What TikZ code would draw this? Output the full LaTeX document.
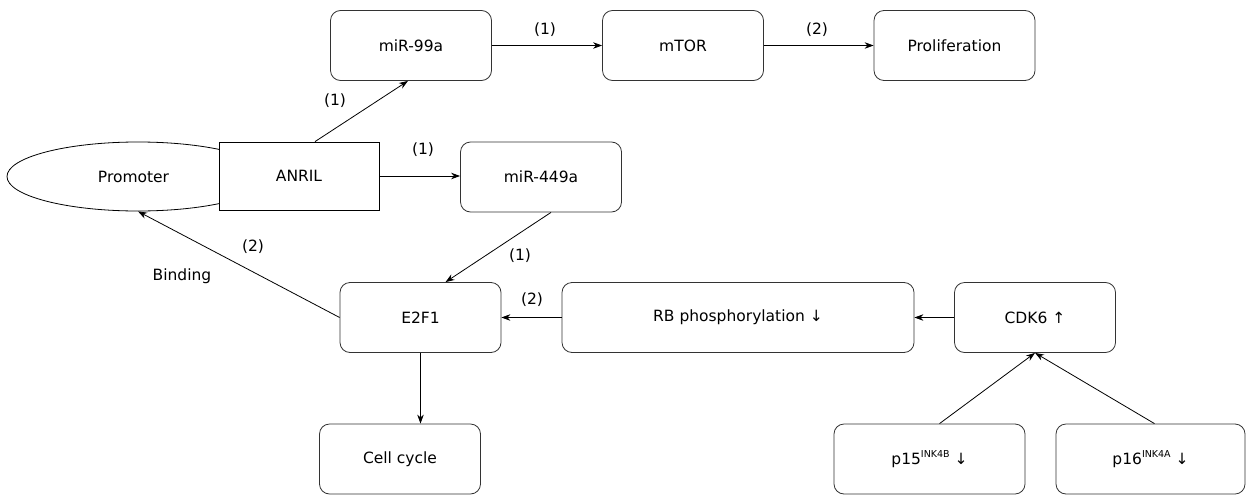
\documentclass[tikz,border=0pt]{standalone}
\usepackage{fontspec}
\setmainfont{DejaVu Sans}
\usetikzlibrary{arrows.meta,shapes.geometric,calc}
\begin{document}
\begin{tikzpicture}[x=1pt,y=-1pt,
  txt/.style={font=\fontsize{15.5}{18}\selectfont},
  box/.style={draw=black!80, line width=0.8pt, rounded corners=10pt, minimum width=161pt, minimum height=70pt, inner sep=0pt, fill=white, txt},
  rect/.style={draw=black, line width=0.8pt, minimum width=160pt, minimum height=68pt, inner sep=0pt, fill=white, txt},
  oval/.style={draw=black, line width=0.8pt, ellipse, minimum width=262pt, minimum height=69pt, inner sep=0pt, txt},
  arr/.style={draw=black, line width=0.8pt, -{Stealth[length=9pt,width=6.5pt]}},
  lab/.style={txt, inner sep=0pt}
]
\useasboundingbox (0,0) rectangle (1246,495);
\newcommand{\sups}[1]{\raisebox{6.5pt}{\fontsize{9.5}{9.5}\selectfont #1}}

\node[oval] (prom) at (138,176.5) {\hspace*{-9pt}Promoter};
\node[rect] (anril) at (299,176) {ANRIL};
\node[box] (m99) at (411,45.5) {miR-99a};
\node[box] (mtor) at (683,45.5) {mTOR};
\node[box] (prol) at (954.5,45.5) {Proliferation};
\node[box] (m449) at (541,177) {miR-449a};
\node[box] (e2f1) at (420.5,317.5) {E2F1};
\node[box, minimum width=352pt] (rb) at (738,317.5) {RB phosphorylation ↓};
\node[box] (cdk6) at (1035,317.5) {CDK6 ↑};
\node[box] (cc) at (400,459) {Cell cycle};
\node[box, minimum width=191pt] (p15) at (929.5,459) {p15\sups{INK4B} ↓};
\node[box, minimum width=189pt] (p16) at (1150.5,459) {p16\sups{INK4A} ↓};

\draw[arr] ($(anril.north)+(16,0)$) -- ($(m99.south)+(-3,0)$);
\draw[arr] (m99) -- (mtor);
\draw[arr] (mtor) -- (prol);
\draw[arr] (anril.east) -- (m449.west |- anril.east);
\draw[arr] ($(m449.south)+(10,0)$) -- ($(e2f1.north)+(25,0)$);
\draw[arr] (rb) -- (e2f1);
\draw[arr] (cdk6) -- (rb);
\draw[arr] (e2f1.west) -- (prom.south);
\draw[arr] (e2f1.south) -- (e2f1.south |- cc.north);
\draw[arr] ($(p15.north)+(10,0)$) -- (cdk6.south);
\draw[arr] ($(p16.north)+(4,0)$) -- (cdk6.south);

\node[lab] (l1) at (335,101) {(1)};
\node[lab] (l2) at (545,30) {(1)};
\node[lab] (l3) at (817,30) {(2)};
\node[lab] (l4) at (423,150) {(1)};
\node[lab] (l5) at (520,256) {(1)};
\node[lab] (l6) at (532,300) {(2)};
\node[lab] (l7) at (253,247) {(2)};
\node[lab] (l8) at (182,276) {Binding};
\end{tikzpicture}
\end{document}
